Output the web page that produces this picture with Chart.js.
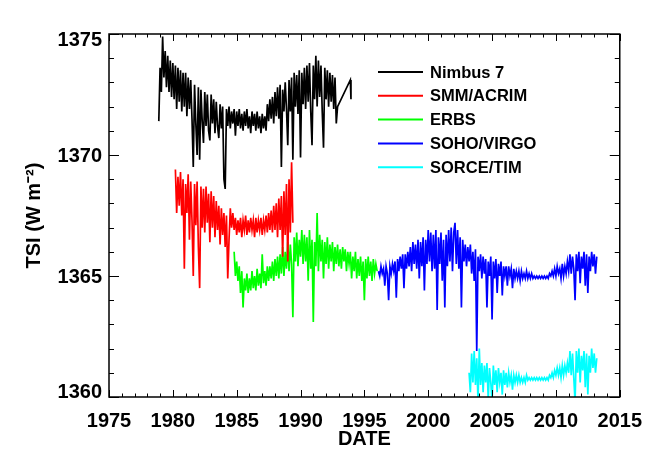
<!DOCTYPE html>
<html><head><meta charset="utf-8">
<script src="https://cdn.jsdelivr.net/npm/chart.js@4/dist/chart.umd.min.js"></script>
<style>html,body{margin:0;padding:0;background:#fff}canvas{display:block}</style>
</head><body>
<canvas id="c" width="654" height="467"></canvas>
<script>
// ---- data (TSI in W m^-2, sampled every 0.1 year) ----
const xTickValues = [1975, 1980, 1985, 1990, 1995, 2000, 2005, 2010, 2015];
const yTickValues = [1360, 1365, 1370, 1375];
const seriesNames = ['Nimbus 7', 'SMM/ACRIM', 'ERBS', 'SOHO/VIRGO', 'SORCE/TIM'];
const seriesColors = ['#000000', '#ff0000', '#00ff00', '#0000ff', '#00ffff'];
const sampleStep = 0.1;

const nimbusStart = 1978.9;
const nimbusTSI = [
  1371.4,1373.6,1372.6,1374.9,1373.2,1374.3,1372.8,1374.1,1372.6,1373.9,
  1372.4,1373.8,1372.3,1373.7,1371.9,1373.6,1372.2,1373.5,1371.8,1373.4,
  1372.0,1373.4,1371.6,1373.2,1371.9,1373.1,1371.5,1369.5,1372.9,1371.3,
  1370.0,1372.8,1369.8,1372.7,1371.4,1370.5,1372.6,1371.2,1372.5,1371.0,
  1370.6,1372.5,1371.3,1372.3,1370.9,1372.2,1371.2,1370.7,1372.1,1371.1,
  1372.0,1369.0,1368.6,1371.9,1371.2,1372.0,1371.1,1371.8,1371.3,1371.9,
  1370.8,1371.8,1371.2,1371.9,1371.1,1371.7,1371.0,1371.8,1371.2,1371.9,
  1371.1,1371.6,1370.9,1371.8,1371.2,1371.7,1371.0,1371.8,1371.1,1371.6,
  1370.9,1371.7,1371.1,1371.6,1371.0,1372.1,1371.4,1372.3,1371.5,1372.4,
  1371.3,1372.6,1371.6,1372.8,1371.5,1372.9,1369.5,1372.7,1371.8,1373.0,
  1371.9,1370.4,1373.1,1371.8,1373.2,1369.8,1373.4,1372.0,1373.3,1371.7,
  1373.5,1369.9,1373.4,1372.1,1373.6,1371.9,1373.7,1372.2,1373.8,1371.8,
  1370.4,1373.7,1372.3,1374.1,1372.0,1373.9,1372.4,1373.7,1371.8,1370.3,
  1373.6,1372.3,1373.5,1372.0,1373.4,1372.2,1373.3,1371.9,1373.2,1371.3,
  1372.0
];
const nimbusTailDates = [1993.9, 1993.95];
const nimbusTailTSI = [1373.1, 1372.3];

const acrimStart = 1980.2;
const acrimTSI = [
  1369.4,1367.6,1369.1,1367.9,1369.3,1367.5,1369.0,1365.3,1368.8,1367.6,
  1369.2,1366.5,1368.9,1367.3,1365.0,1368.8,1367.1,1368.9,1366.2,1364.5,
  1368.7,1367.0,1368.6,1366.8,1368.7,1367.2,1368.4,1366.4,1368.5,1367.0,
  1368.3,1366.6,1368.1,1366.9,1367.9,1366.3,1367.8,1366.7,1367.6,1366.2,
  1367.5,1364.9,1366.5,1367.8,1367.0,1367.6,1366.9,1367.4,1366.7,1367.3,
  1366.8,1367.4,1366.6,1367.3,1366.9,1367.5,1366.7,1367.3,1366.8,1367.4,
  1366.9,1367.3,1366.6,1367.4,1366.8,1367.3,1366.9,1367.4,1366.7,1367.3,
  1366.9,1367.5,1366.8,1367.6,1366.9,1367.7,1366.8,1367.9,1366.9,1368.0,
  1366.6,1368.2,1366.9,1368.3,1365.8,1368.5,1366.7,1368.8,1365.6,1369.0,
  1366.8,1369.7,1367.2
];

const erbsStart = 1984.8;
const erbsTSI = [
  1366.0,1365.0,1365.6,1364.8,1365.4,1364.3,1365.2,1363.7,1364.9,1364.4,
  1365.1,1364.3,1364.9,1364.4,1365.2,1364.5,1365.0,1364.4,1365.3,1364.6,
  1365.1,1364.5,1365.9,1364.7,1365.2,1364.6,1365.4,1364.8,1365.4,1364.9,
  1365.6,1364.8,1365.7,1365.0,1365.8,1364.9,1365.9,1365.1,1366.2,1365.0,
  1366.0,1365.3,1366.4,1365.2,1366.3,1365.5,1363.3,1366.6,1365.6,1366.8,
  1365.4,1366.5,1365.8,1366.9,1365.5,1366.7,1365.6,1366.6,1364.8,1366.9,
  1365.3,1366.5,1363.1,1366.4,1365.4,1367.6,1365.2,1366.7,1365.6,1366.5,
  1364.9,1366.4,1365.5,1366.6,1365.3,1366.3,1365.6,1366.4,1365.2,1366.2,
  1365.5,1366.3,1365.4,1366.1,1365.3,1366.2,1365.6,1366.1,1365.2,1366.0,
  1365.5,1366.0,1364.9,1365.8,1365.2,1366.0,1364.9,1365.7,1365.0,1365.8,
  1364.8,1365.6,1364.0,1365.7,1364.9,1365.8,1365.0,1365.6,1364.8,1365.7,
  1365.1,1365.5,1365.2
];

const virgoStart = 1996.1;
const virgoTSI = [
  1365.2,1365.0,1365.4,1365.1,1365.3,1364.6,1365.4,1365.1,1364.0,1365.4,
  1365.1,1365.5,1365.2,1365.6,1364.1,1365.7,1365.2,1365.8,1365.3,1365.9,
  1364.5,1365.9,1365.3,1366.0,1365.4,1366.2,1365.2,1366.4,1365.5,1366.3,
  1365.3,1366.5,1364.9,1366.4,1365.4,1366.6,1364.4,1366.5,1365.5,1366.9,
  1365.6,1366.8,1365.2,1366.7,1365.3,1366.9,1363.6,1366.6,1365.5,1366.8,
  1364.8,1366.5,1363.7,1366.7,1365.4,1366.9,1365.6,1367.0,1365.2,1366.8,
  1367.2,1365.5,1366.9,1365.3,1366.6,1363.7,1366.5,1365.6,1366.3,1365.4,
  1366.2,1365.6,1366.3,1365.1,1366.0,1364.8,1366.1,1361.9,1365.8,1365.2,
  1365.9,1364.9,1365.8,1365.1,1365.7,1363.7,1365.6,1365.0,1365.8,1363.2,
  1365.6,1364.9,1365.7,1364.3,1365.5,1365.0,1365.6,1364.2,1365.4,1365.0,
  1365.4,1364.6,1365.4,1365.0,1365.3,1364.5,1365.3,1364.9,1365.2,1364.9,
  1365.2,1364.8,1365.2,1364.9,1365.1,1364.9,1365.2,1364.9,1365.1,1364.9,
  1365.1,1364.9,1365.0,1364.9,1365.0,1364.9,1365.0,1364.9,1365.0,1364.9,
  1365.0,1364.9,1365.0,1364.9,1365.1,1365.0,1365.2,1365.0,1365.3,1365.0,
  1365.4,1365.1,1365.3,1364.9,1365.5,1365.0,1365.4,1365.1,1365.6,1365.2,
  1365.9,1365.1,1365.8,1365.3,1364.0,1365.9,1365.2,1366.0,1364.7,1365.8,
  1365.3,1366.0,1364.6,1365.9,1364.3,1365.8,1365.2,1366.0,1365.4,1365.9,
  1365.1,1365.8
];

const timStart = 2003.2;
const timTSI = [
  1361.0,1360.2,1361.8,1360.6,1361.9,1360.5,1361.6,1359.8,1362.0,1360.5,
  1361.4,1360.2,1361.3,1360.6,1361.4,1359.9,1361.2,1360.6,1359.8,1361.3,
  1360.5,1361.1,1360.2,1361.2,1360.6,1361.0,1360.1,1361.1,1360.5,1361.0,
  1360.4,1361.0,1360.6,1360.9,1360.3,1360.9,1360.6,1360.9,1360.6,1360.9,
  1360.6,1360.8,1360.6,1360.8,1360.6,1360.9,1360.7,1360.8,1360.7,1360.8,
  1360.7,1360.8,1360.7,1360.8,1360.7,1360.8,1360.7,1360.8,1360.7,1360.8,
  1360.7,1360.8,1360.7,1360.9,1360.8,1361.0,1360.8,1361.1,1360.9,1361.2,
  1360.9,1361.2,1360.8,1361.3,1360.9,1361.3,1361.0,1361.4,1361.0,1361.9,
  1360.9,1361.8,1360.8,1359.8,1361.9,1361.0,1362.0,1360.6,1361.7,1361.1,
  1361.9,1360.4,1361.8,1360.1,1361.7,1361.0,1362.0,1361.2,1361.8,1361.0,
  1361.6
];

// ---- build points ----
function sampled(start, vals) {
  return vals.map((v, i) => ({ x: Math.round((start + i * sampleStep) * 100) / 100, y: v }));
}
function dated(dates, vals) { return vals.map((v, i) => ({ x: dates[i], y: v })); }

const seriesPoints = [
  sampled(nimbusStart, nimbusTSI).concat(dated(nimbusTailDates, nimbusTailTSI)),
  sampled(acrimStart, acrimTSI),
  sampled(erbsStart, erbsTSI),
  sampled(virgoStart, virgoTSI),
  sampled(timStart, timTSI)
];

const FONT = "'Liberation Sans', Arial, Helvetica, sans-serif";

const framePlugin = {
  id: 'idlFrame',
  afterDatasetsDraw(chart) {
    const { ctx, chartArea: a, scales: { x, y } } = chart;
    ctx.save();
    ctx.strokeStyle = '#000';
    ctx.fillStyle = '#000';
    // ticks (inward), minor every 1 unit
    ctx.lineWidth = 1;
    ctx.beginPath();
    for (let v = xTickValues[0]; v <= xTickValues[xTickValues.length - 1]; v++) {
      const px = Math.round(x.getPixelForValue(v)) + 0.5;
      const L = (v % 5 === 0) ? 7 : 3.5;
      ctx.moveTo(px, a.bottom); ctx.lineTo(px, a.bottom - L);
      ctx.moveTo(px, a.top); ctx.lineTo(px, a.top + L);
    }
    for (let v = yTickValues[0]; v <= yTickValues[yTickValues.length - 1]; v++) {
      const py = Math.round(y.getPixelForValue(v)) + 0.5;
      const L = (v % 5 === 0) ? 10 : 5;
      ctx.moveTo(a.left, py); ctx.lineTo(a.left + L, py);
      ctx.moveTo(a.right, py); ctx.lineTo(a.right - L, py);
    }
    ctx.stroke();
    // box
    ctx.lineWidth = 1.5;
    ctx.strokeRect(a.left, a.top, a.right - a.left, a.bottom - a.top);

    // y tick labels (kept inside the axis range)
    ctx.font = 'bold 20px ' + FONT;
    ctx.textAlign = 'right';
    ctx.textBaseline = 'middle';
    yTickValues.forEach(v => {
      let py = y.getPixelForValue(v);
      py = Math.min(Math.max(py, a.top + 5), a.bottom - 5.5);
      ctx.fillText(String(v), a.left - 7, py + 1);
    });

    // legend
    ctx.font = 'bold 16.5px ' + FONT;
    ctx.textAlign = 'left';
    chart.data.datasets.forEach((ds, i) => {
      const ly = 72 + i * 23.8;
      ctx.strokeStyle = ds.borderColor;
      ctx.lineWidth = 2;
      ctx.beginPath();
      ctx.moveTo(378, ly); ctx.lineTo(423, ly);
      ctx.stroke();
      ctx.fillStyle = '#000';
      ctx.fillText(ds.label, 430, ly + 1);
    });
    ctx.restore();
  }
};

new Chart(document.getElementById('c'), {
  type: 'line',
  data: {
    datasets: seriesPoints.map((pts, i) => ({
      label: seriesNames[i],
      data: pts,
      borderColor: seriesColors[i],
      backgroundColor: seriesColors[i],
      borderWidth: 1.7,
      pointRadius: 0,
      tension: 0,
      fill: false,
      clip: 0
    }))
  },
  options: {
    responsive: false,
    animation: false,
    events: [],
    layout: { padding: { top: 34, right: 32, left: 0, bottom: 0 } },
    plugins: { legend: { display: false }, tooltip: { enabled: false } },
    scales: {
      x: {
        type: 'linear', min: 1975, max: 2015,
        afterFit(s) { s.height = 70; },
        afterBuildTicks(s) { s.ticks = xTickValues.map(v => ({ value: v })); },
        ticks: {
          font: { family: FONT, size: 20, weight: 'bold' }, color: '#000',
          padding: 12, maxRotation: 0, autoSkip: false, callback: v => String(v)
        },
        grid: { display: false, drawTicks: false },
        border: { display: false },
        title: {
          display: true, text: 'DATE', color: '#000',
          font: { family: FONT, size: 20, weight: 'bold' },
          padding: { top: 0, bottom: 16 }
        }
      },
      y: {
        type: 'linear', min: 1360, max: 1375,
        afterFit(s) { s.width = 109; },
        afterBuildTicks(s) { s.ticks = yTickValues.map(v => ({ value: v })); },
        ticks: { display: false },
        grid: { display: false, drawTicks: false },
        border: { display: false },
        title: {
          display: true, text: 'TSI (W m\u207B\u00B2)', color: '#000',
          font: { family: FONT, size: 20, weight: 'bold' },
          padding: { top: 22, bottom: 0 }
        }
      }
    }
  },
  plugins: [framePlugin]
});
</script>
</body></html>
